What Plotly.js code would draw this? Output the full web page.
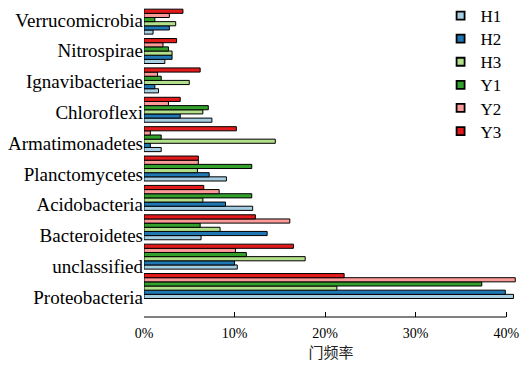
<!DOCTYPE html>
<html>
<head>
<meta charset="utf-8">
<script src="https://cdn.plot.ly/plotly-3.0.1.min.js"></script>
<style>html,body{margin:0;padding:0;background:#fff;}#chart{width:525px;height:374px;}</style>
</head>
<body>
<div id="chart"></div>
<script>
const categories = ['Proteobacteria','unclassified','Bacteroidetes','Acidobacteria','Planctomycetes','Armatimonadetes','Chloroflexi','Ignavibacteriae','Nitrospirae','Verrucomicrobia'];
const seriesNames = ['H1','H2','H3','Y1','Y2','Y3'];
const H1 = [40.8, 10.3, 6.3, 12.0, 9.1, 1.9, 7.5, 1.6, 2.3, 1.0];
const H2 = [39.9, 10.0, 13.6, 9.0, 7.2, 0.7, 4.0, 1.2, 3.1, 2.8];
const H3 = [21.3, 17.8, 8.4, 6.5, 5.9, 14.5, 6.5, 5.0, 3.1, 3.5];
const Y1 = [37.3, 11.3, 6.2, 11.9, 11.9, 1.9, 7.1, 1.9, 2.7, 1.2];
const Y2 = [41.0, 10.1, 16.1, 8.3, 6.0, 0.7, 2.7, 1.5, 2.1, 2.8];
const Y3 = [22.1, 16.5, 12.3, 6.6, 6.0, 10.2, 4.0, 6.2, 3.6, 4.3];
const xTicks = [0, 10, 20, 30, 40];
const xTickText = ['0%', '10%', '20%', '30%', '40%'];

const seriesValues = [H1, H2, H3, Y1, Y2, Y3];
const colors = ['#a6cee3', '#1f78b4', '#b2df8a', '#33a02c', '#fb9a99', '#e31a1c'];

const traces = seriesNames.map((name, i) => ({
  type: 'bar',
  orientation: 'h',
  name: name,
  x: seriesValues[i],
  y: categories,
  xaxis: 'x',
  yaxis: 'y',
  marker: {color: colors[i], line: {color: '#000', width: 1}},
  hoverinfo: 'x+name'
}));
// invisible trace that carries the category labels on the second y axis
traces.push({
  type: 'scatter', mode: 'markers',
  x: categories.map(() => 0), y: categories,
  xaxis: 'x', yaxis: 'y2', marker: {opacity: 0}, showlegend: false, hoverinfo: 'skip'
});

const serif = 'Liberation Serif';
const layout = {
  width: 525, height: 374,
  font: {family: serif, color: '#000', size: 14},
  margin: {l: 144, r: 7, t: 5, b: 57},
  paper_bgcolor: '#fff', plot_bgcolor: '#fff',
  barmode: 'group', bargap: 0.15, bargroupgap: 0,
  showlegend: true,
  legend: {x: 0.793, y: 1, xanchor: 'left', yanchor: 'top', font: {family: serif, size: 17, color: '#000'}, bgcolor: 'rgba(0,0,0,0)', traceorder: 'normal'},
  xaxis: {
    type: 'linear',
    range: [0, 41.3], tickmode: 'array', tickvals: xTicks, ticktext: xTickText,
    ticks: 'inside', ticklen: 5, tickcolor: '#000', tickwidth: 1,
    showline: false, showgrid: false, zeroline: false,
    tickfont: {family: serif, size: 14, color: '#000'},
    ticklabelstandoff: 6,
    title: {text: '门频率', font: {family: 'Noto Sans CJK SC', size: 15, color: '#222'}, standoff: 4}
  },
  yaxis: {
    type: 'category', categoryorder: 'array', categoryarray: categories,
    range: [-1.055, 9.567], showticklabels: false, ticks: '',
    showline: false, showgrid: false, zeroline: false
  },
  yaxis2: {
    type: 'category', categoryorder: 'array', categoryarray: categories,
    overlaying: 'y', side: 'left',
    range: [-0.65, 9.487], ticks: '',
    showline: false, showgrid: false, zeroline: false,
    tickfont: {family: serif, size: 19, color: '#000'}
  },
  shapes: [{type: 'line', xref: 'x', yref: 'paper', x0: 0, x1: 40, y0: 0, y1: 0, line: {color: '#000', width: 1}}]
};
Plotly.newPlot('chart', traces, layout, {displayModeBar: false, staticPlot: true}).then(() => {
  document.querySelectorAll('.legend .legendpoints path').forEach(p => {
    p.setAttribute('d', 'M4,4H-4V-4H4Z');
    p.style.strokeWidth = '1.8px';
  });
  // tighten legend row spacing to match the reference
  const items = document.querySelectorAll('.legend .traces');
  let y0 = null;
  items.forEach((g, i) => {
    const m = /translate\(([-\d.]+)[ ,]+([-\d.]+)\)/.exec(g.getAttribute('transform') || '');
    if (!m) return;
    if (y0 === null) y0 = parseFloat(m[2]);
    g.setAttribute('transform', 'translate(' + m[1] + ',' + (y0 + i * 23.1) + ')');
  });
  // nudge the whole legend up a little
  const leg = document.querySelector('.legend');
  if (leg) {
    const m = /translate\(([-\d.]+)[ ,]+([-\d.]+)\)/.exec(leg.getAttribute('transform') || '');
    if (m) leg.setAttribute('transform', 'translate(' + m[1] + ',' + (parseFloat(m[2]) - 7) + ')');
  }
});
</script>
</body>
</html>
